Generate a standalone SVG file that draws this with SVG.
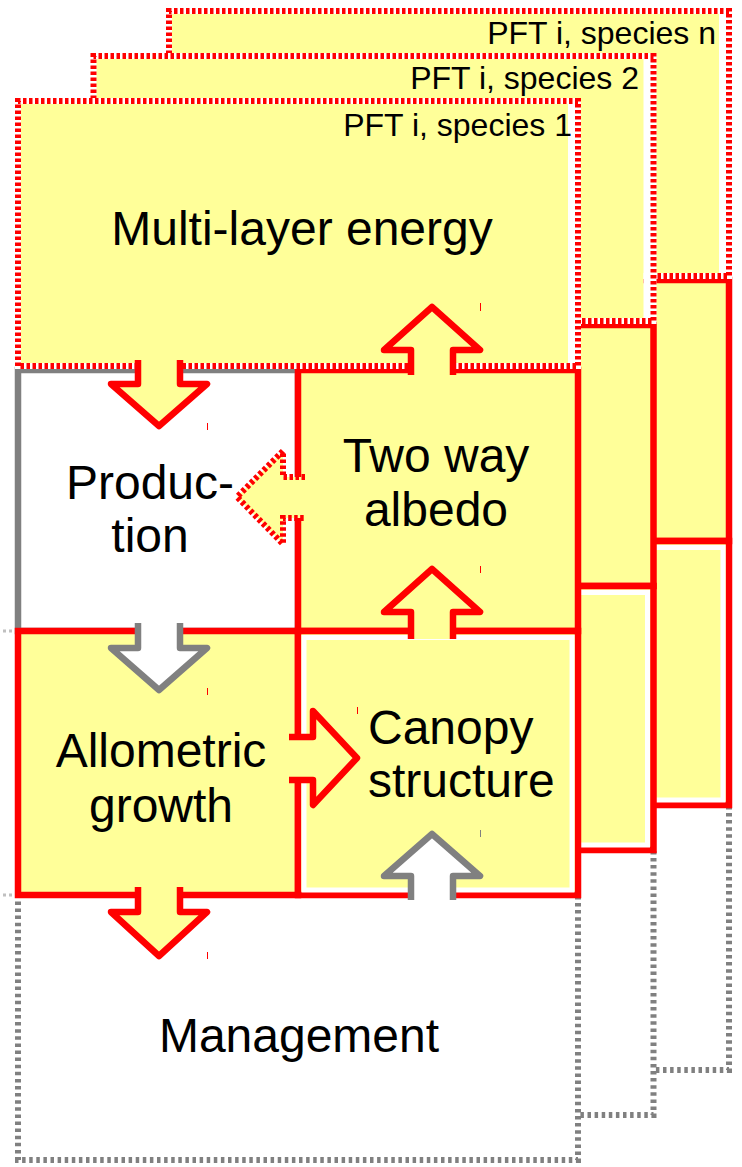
<svg xmlns="http://www.w3.org/2000/svg" xmlns:xlink="http://www.w3.org/1999/xlink" width="742" height="1167" viewBox="0 0 742 1167">
<style>
.yel{fill:#ffff99}
.wht{fill:#ffffff}
.box{fill:#ffff99;stroke:#ff0000;stroke-width:6.5}
.prod{fill:#ffffff;stroke:#808080;stroke-width:6.5}
.mgmt{fill:#ffffff;stroke:#808080;stroke-width:6;stroke-dasharray:3.5 3.6}
.inner{fill:none;stroke:#ffffff;stroke-width:5}
.under{fill:none;stroke:#ffffff;stroke-width:6}
.dot{fill:none;stroke:#ff0000;stroke-width:6;stroke-dasharray:3.5 2.5}
.arr{fill:#ffff99;stroke:#ff0000;stroke-width:6.5;stroke-linejoin:round}
.garr{fill:#ffffff;stroke:#808080;stroke-width:6.5;stroke-linejoin:round}
.darr{fill:#ffff99;stroke:#ff0000;stroke-width:6;stroke-dasharray:3.5 2.5}
.tick{stroke:#ff0000;stroke-width:1}
.stub{fill:none;stroke:#c0c0c0;stroke-width:3;stroke-dasharray:3 3}
.t{font-family:"Liberation Sans",Arial,sans-serif;font-size:48px;fill:#000000}
.lbl{font-family:"Liberation Sans",Arial,sans-serif;font-size:32px;fill:#000000;text-anchor:end}
</style>
<defs>
<g id="panel">
<rect x="18" y="895" width="560" height="265" class="mgmt"/>
<rect x="18" y="370" width="280" height="261" class="prod"/>
<rect x="18" y="631" width="280" height="264" class="box"/>
<rect x="298" y="370" width="280" height="261" class="box"/>
<rect x="298" y="631" width="280" height="264" class="box"/>
<rect x="304" y="637.5" width="268" height="252.5" class="inner"/>
<rect x="18" y="101" width="550" height="265" class="yel"/>
<rect x="568" y="101" width="10" height="265" class="wht"/>
<path d="M18,366V101H578V366Z" class="under"/>
<path d="M18,366V101H578V366Z" class="dot"/>
</g>
</defs>

<g id="layer-species-n">
<use xlink:href="#panel" href="#panel" transform="translate(151,-90)"/>
<text class="lbl" x="716" y="43.5">PFT i, species n</text>
</g>

<g id="layer-species-2">
<use xlink:href="#panel" href="#panel" transform="translate(75.5,-45)"/>
<text class="lbl" x="639" y="89">PFT i, species 2</text>
</g>

<g id="layer-species-1">
<g id="management">
<rect x="18" y="895" width="560" height="265" class="mgmt"/>
<text class="t" x="299" y="1052" text-anchor="middle">Management</text>
</g>
<g id="production">
<rect x="18" y="370" width="280" height="261" class="prod"/>
<text class="t" x="150" y="499" text-anchor="middle">Produc-</text>
<text class="t" x="150" y="552" text-anchor="middle">tion</text>
</g>
<g id="allometric-growth">
<rect x="18" y="631" width="280" height="264" class="box"/>
<text class="t" x="161" y="767" text-anchor="middle">Allometric</text>
<text class="t" x="161" y="822" text-anchor="middle">growth</text>
</g>
<g id="two-way-albedo">
<rect x="298" y="370" width="280" height="261" class="box"/>
<text class="t" x="436" y="472" text-anchor="middle">Two way</text>
<text class="t" x="436" y="526" text-anchor="middle">albedo</text>
</g>
<g id="canopy-structure">
<rect x="298" y="631" width="280" height="264" class="box"/>
<rect x="304" y="637.5" width="268" height="252.5" class="inner"/>
<text class="t" x="368" y="744">Canopy</text>
<text class="t" x="368" y="797">structure</text>
</g>
<g id="multi-layer-energy">
<rect x="18" y="101" width="550" height="265" class="yel"/>
<rect x="568" y="101" width="10" height="265" class="wht"/>
<path d="M18,366V101H578V366Z" class="under"/>
<path d="M18,366V101H578V366Z" class="dot"/>
<text class="t" x="302" y="245" text-anchor="middle">Multi-layer energy</text>
</g>
<text class="lbl" x="572" y="135.5">PFT i, species 1</text>
<path class="stub" d="M3,631H15M3,895H15"/>
</g>

<g id="connectors">
<path class="arr" d="M138,360V384H111L159,426L207,384H180V360"/>
<path class="garr" d="M138,623V648H111L159,690L207,648H180V623"/>
<path class="arr" d="M138,887V912H111L159,956L207,912H180V887"/>
<path class="arr" d="M411,375V350H384L432,307L480,350H453V375"/>
<path class="arr" d="M411,639V612H384L432,569L480,612H453V639"/>
<path class="garr" d="M411,900V876H384L432,834L480,876H453V900"/>
<path class="arr" d="M289,737H313V711L357,758L313,805V780H289"/>
<path class="darr" d="M305,477H283V451L237,497L283,544V518H305"/>
<path class="tick" d="M207.5,423V430M207.5,688V695M207.5,952V959M480.5,303V311M480.5,566V573M357.5,707V714"/>
<path d="M480.5,830V837" stroke="#808080" stroke-width="1"/>
</g>
</svg>
